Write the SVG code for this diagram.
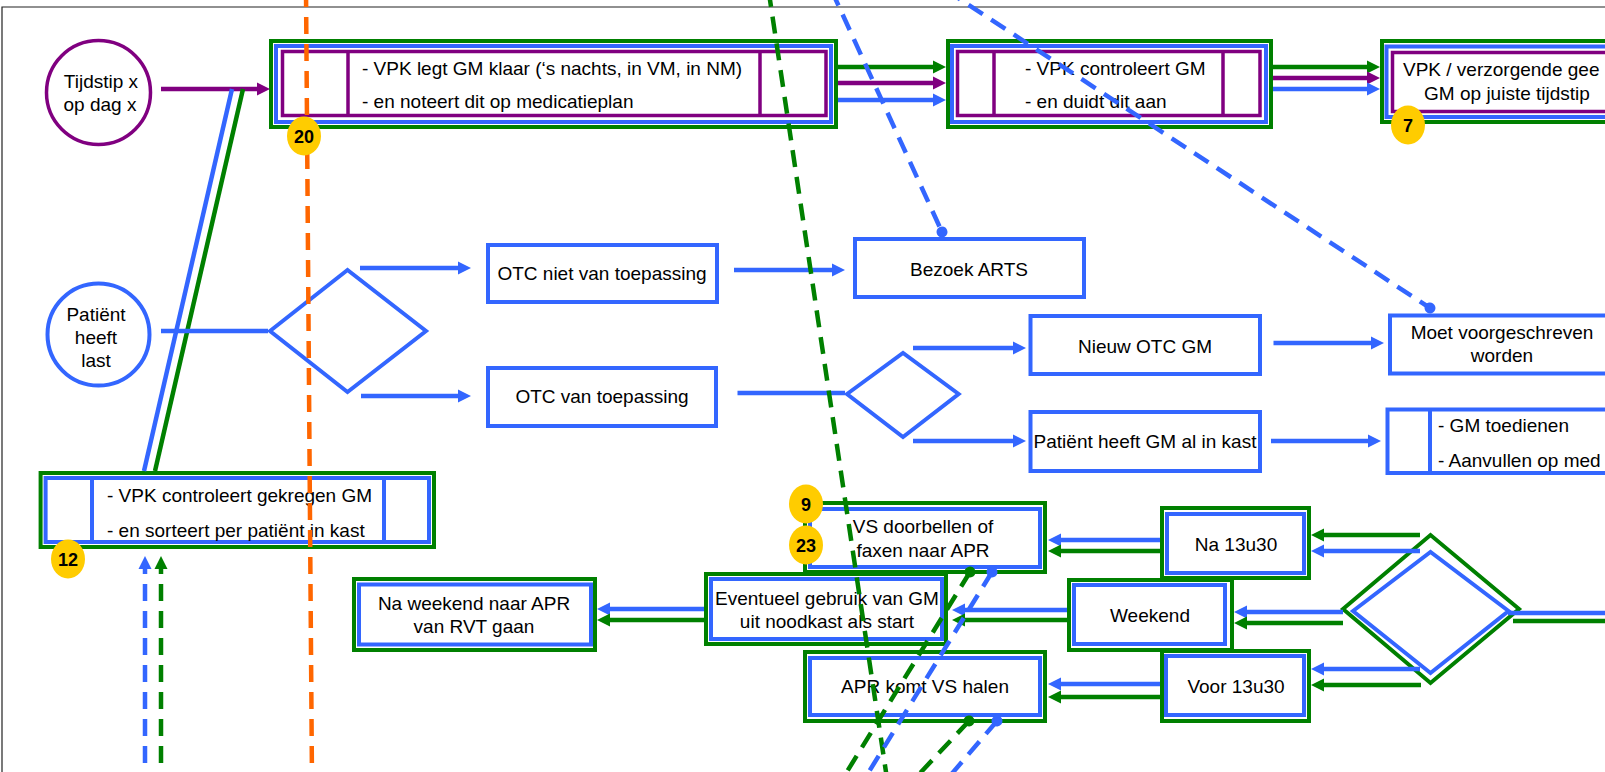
<svg xmlns="http://www.w3.org/2000/svg" width="1605" height="772" viewBox="0 0 1605 772">
<style>
.t{font-family:"Liberation Sans",Arial,Helvetica,sans-serif;font-size:19px;fill:#000}
.m{text-anchor:middle}
.bt{font-family:"Liberation Sans",Arial,sans-serif;font-size:18px;font-weight:bold;text-anchor:middle;fill:#000}
.g{fill:none;stroke:#008000;stroke-width:4}
.bl{fill:none;stroke:#3366FF;stroke-width:4}
.p{fill:none;stroke:#800080;stroke-width:3.5}
.wg{fill:#fff;stroke:#008000;stroke-width:4}
.wb{fill:#fff;stroke:#3366FF;stroke-width:4}
.wp{fill:#fff;stroke:#800080;stroke-width:3.5}
.cb{stroke:#3366FF;stroke-width:4.5;fill:none}
.cg{stroke:#008000;stroke-width:4.5;fill:none}
.cp{stroke:#800080;stroke-width:4.5;fill:none}
.ab{marker-end:url(#aB)}
.ag{marker-end:url(#aG)}
.ap{marker-end:url(#aP)}
.dash{stroke-dasharray:17 10;fill:none;stroke-width:4.5}
.badge{fill:#FFCC00}
</style>
<defs>
<marker id="aB" markerUnits="userSpaceOnUse" markerWidth="14" markerHeight="14" refX="3" refY="7" orient="auto"><path d="M0,0.5 L13,7 L0,13.5 z" fill="#3366FF"/></marker>
<marker id="aG" markerUnits="userSpaceOnUse" markerWidth="14" markerHeight="14" refX="3" refY="7" orient="auto"><path d="M0,0.5 L13,7 L0,13.5 z" fill="#008000"/></marker>
<marker id="aP" markerUnits="userSpaceOnUse" markerWidth="14" markerHeight="14" refX="3" refY="7" orient="auto"><path d="M0,0.5 L13,7 L0,13.5 z" fill="#800080"/></marker>
<marker id="dB" markerUnits="userSpaceOnUse" markerWidth="12" markerHeight="12" refX="6" refY="6" orient="auto"><circle cx="6" cy="6" r="5.5" fill="#3366FF"/></marker>
<marker id="dG" markerUnits="userSpaceOnUse" markerWidth="12" markerHeight="12" refX="6" refY="6" orient="auto"><circle cx="6" cy="6" r="5.5" fill="#008000"/></marker>
</defs>
<rect x="0" y="0" width="1605" height="772" fill="#fff"/>
<path d="M2,772 V7 H1605" fill="none" stroke="#222" stroke-width="1.2"/>

<g id="n-tijdstip">
<circle cx="98.5" cy="92.5" r="52" class="wp"/>
<text class="t m" x="101" y="88">Tijdstip x</text>
<text class="t m" x="100" y="111">op dag x</text>
</g>
<g id="n-legt">
<rect class="wg" x="271" y="41" width="565" height="86"/>
<rect class="bl" x="276" y="46" width="555" height="76"/>
<rect class="p" x="282.5" y="51.5" width="543.5" height="64"/>
<line class="p" x1="348" y1="51.5" x2="348" y2="115.5"/>
<line class="p" x1="760" y1="51.5" x2="760" y2="115.5"/>
<text class="t" x="362" y="75">- VPK legt GM klaar (‘s nachts, in VM, in NM)</text>
<text class="t" x="362" y="108">- en noteert dit op medicatieplan</text>
</g>
<g id="n-controleert">
<rect class="wg" x="948" y="41" width="323" height="86"/>
<rect class="bl" x="952" y="46" width="314" height="76"/>
<rect class="p" x="957.5" y="51.5" width="302.5" height="64"/>
<line class="p" x1="994" y1="51.5" x2="994" y2="115.5"/>
<line class="p" x1="1223" y1="51.5" x2="1223" y2="115.5"/>
<text class="t" x="1025" y="75">- VPK controleert GM</text>
<text class="t" x="1025" y="108">- en duidt dit aan</text>
</g>
<g id="n-geeft">
<rect class="wg" x="1382" y="41" width="260" height="81"/>
<rect class="bl" x="1386.5" y="46.5" width="250" height="70.5"/>
<rect class="p" x="1392.5" y="52.5" width="240" height="59"/>
<text class="t" x="1403" y="76">VPK / verzorgende gee</text>
<text class="t m" x="1507" y="100">GM op juiste tijdstip</text>
</g>
<g id="n-patient">
<circle cx="98.5" cy="334.5" r="51" class="wb"/>
<text class="t m" x="96" y="321">Patiënt</text>
<text class="t m" x="96" y="344">heeft</text>
<text class="t m" x="96" y="367">last</text>
</g>
<g id="n-dia1">
<polygon class="wb" points="270,331 347.5,270 426,331 347.5,392"/>
</g>
<g id="n-otcniet">
<rect class="wb" x="488" y="245" width="229" height="57"/>
<text class="t m" x="602" y="280">OTC niet van toepassing</text>
</g>
<g id="n-otcvan">
<rect class="wb" x="488" y="368" width="228" height="58"/>
<text class="t m" x="602" y="403">OTC van toepassing</text>
</g>
<g id="n-bezoek">
<rect class="wb" x="855" y="239" width="229" height="58"/>
<text class="t m" x="969" y="276">Bezoek ARTS</text>
</g>
<g id="n-dia2">
<polygon class="wb" points="847,394 903,353 958.6,394 903,437"/>
</g>
<g id="n-nieuw">
<rect class="wb" x="1030.5" y="316" width="229.5" height="58"/>
<text class="t m" x="1145" y="353">Nieuw OTC GM</text>
</g>
<g id="n-inkast">
<rect class="wb" x="1030.5" y="412" width="229.5" height="59"/>
<text class="t m" x="1145" y="448">Patiënt heeft GM al in kast</text>
</g>
<g id="n-moet">
<rect class="wb" x="1390" y="315.5" width="300" height="58"/>
<text class="t m" x="1502" y="339">Moet voorgeschreven</text>
<text class="t m" x="1502" y="362">worden</text>
</g>
<g id="n-toedienen">
<rect class="wb" x="1387.5" y="409.5" width="300" height="63.5"/>
<line class="bl" x1="1430" y1="409.5" x2="1430" y2="473"/>
<text class="t" x="1438" y="432">- GM toedienen</text>
<text class="t" x="1438" y="467">- Aanvullen op med</text>
</g>
<g id="n-gekregen">
<rect class="wg" x="40.6" y="473" width="393.4" height="74"/>
<rect class="bl" x="45.6" y="478" width="383.4" height="64"/>
<line class="bl" x1="92" y1="478" x2="92" y2="542"/>
<line class="bl" x1="384" y1="478" x2="384" y2="542"/>
<text class="t" x="107" y="502">- VPK controleert gekregen GM</text>
<text class="t" x="107" y="537">- en sorteert per patiënt in kast</text>
</g>
<g id="n-naweekend">
<rect class="wg" x="354" y="579" width="241" height="71"/>
<rect class="bl" x="359" y="584.5" width="232" height="60"/>
<text class="t m" x="474" y="610">Na weekend naar APR</text>
<text class="t m" x="474" y="633">van RVT gaan</text>
</g>
<g id="n-vsdoorbellen">
<rect class="wg" x="805" y="503" width="240" height="69"/>
<rect class="bl" x="810" y="509" width="230" height="58"/>
<text class="t m" x="923" y="533">VS doorbellen of</text>
<text class="t m" x="923" y="557">faxen naar APR</text>
</g>
<g id="n-eventueel">
<rect class="wg" x="706" y="574" width="240" height="70"/>
<rect class="bl" x="711" y="579" width="231" height="60"/>
<text class="t m" x="827" y="605">Eventueel gebruik van GM</text>
<text class="t m" x="827" y="628">uit noodkast als start</text>
</g>
<g id="n-aprkomt">
<rect class="wg" x="805" y="652" width="240" height="69"/>
<rect class="bl" x="810" y="658" width="230" height="57"/>
<text class="t m" x="925" y="693">APR komt VS halen</text>
</g>
<g id="n-na1330">
<rect class="wg" x="1162" y="508" width="147" height="70"/>
<rect class="bl" x="1167" y="514" width="137" height="59"/>
<text class="t m" x="1236" y="551">Na 13u30</text>
</g>
<g id="n-weekend">
<rect class="wg" x="1069" y="580" width="163" height="70"/>
<rect class="bl" x="1074" y="585" width="151" height="59"/>
<text class="t m" x="1150" y="622">Weekend</text>
</g>
<g id="n-voor1330">
<rect class="wg" x="1162" y="651" width="147" height="70"/>
<rect class="bl" x="1166" y="656" width="138" height="59"/>
<text class="t m" x="1236" y="693">Voor 13u30</text>
</g>
<g id="n-dia3">
<polygon class="wg" points="1343,609 1430.5,535 1519,609 1430.5,683"/>
<polygon class="bl" points="1353,611 1430.5,552 1508.5,611 1430.5,673"/>
</g>

<g id="connectors">
<line class="cp ap" x1="161" y1="89" x2="260" y2="89"/>
<line class="cb" x1="232" y1="89" x2="144" y2="471" stroke-width="3"/>
<line class="cg" x1="243" y1="89" x2="155" y2="471" stroke-width="3"/>
<line class="cg ag" x1="838" y1="67" x2="936" y2="67"/>
<line class="cp ap" x1="838" y1="83" x2="936" y2="83"/>
<line class="cb ab" x1="838" y1="100" x2="936" y2="100"/>
<line class="cg ag" x1="1273" y1="67" x2="1370" y2="67"/>
<line class="cp ap" x1="1273" y1="78" x2="1370" y2="78"/>
<line class="cb ab" x1="1273" y1="89" x2="1370" y2="89"/>
<line class="cb" x1="161" y1="331" x2="268" y2="331" stroke-width="3.5"/>
<line class="cb ab" x1="360" y1="268" x2="461" y2="268"/>
<line class="cb ab" x1="361" y1="396" x2="461" y2="396"/>
<line class="cb ab" x1="734" y1="270" x2="835" y2="270"/>
<line class="cb" x1="737.5" y1="393" x2="845" y2="393" stroke-width="3.5"/>
<line class="cb ab" x1="913" y1="348" x2="1016" y2="348"/>
<line class="cb ab" x1="913" y1="441" x2="1016" y2="441"/>
<line class="cb ab" x1="1273.5" y1="343" x2="1374" y2="343"/>
<line class="cb ab" x1="1271" y1="441" x2="1371" y2="441"/>
<line class="cg ag" x1="1420" y1="535" x2="1321" y2="535"/>
<line class="cb ab" x1="1420" y1="551" x2="1321" y2="551"/>
<line class="cb ab" x1="1343" y1="612" x2="1244" y2="612"/>
<line class="cg ag" x1="1343" y1="623" x2="1244" y2="623"/>
<line class="cb ab" x1="1420" y1="669" x2="1321" y2="669"/>
<line class="cg ag" x1="1421" y1="685" x2="1321" y2="685"/>
<line class="cb" x1="1508" y1="613" x2="1610" y2="613"/>
<line class="cg" x1="1513" y1="621" x2="1610" y2="621"/>
<line class="cb ab" x1="1160" y1="540" x2="1058" y2="540"/>
<line class="cg ag" x1="1160" y1="551" x2="1058" y2="551"/>
<line class="cb ab" x1="1067" y1="610" x2="962" y2="610"/>
<line class="cg ag" x1="1067" y1="620" x2="962" y2="620"/>
<line class="cb ab" x1="1160" y1="684" x2="1058" y2="684"/>
<line class="cg ag" x1="1160" y1="697" x2="1058" y2="697"/>
<line class="cb ab" x1="704" y1="609" x2="607" y2="609"/>
<line class="cg ag" x1="704" y1="620" x2="607" y2="620"/>
<line class="dash ab" stroke="#3366FF" x1="145" y1="790" x2="145" y2="566"/>
<line class="dash ag" stroke="#008000" x1="161" y1="790" x2="161" y2="566"/>
<line class="dash" stroke="#FF6600" x1="306" y1="-10" x2="312" y2="782"/>
<line class="dash" stroke="#008000" x1="768.5" y1="-10" x2="887.5" y2="782"/>
<line class="dash" stroke="#3366FF" marker-end="url(#dB)" x1="831.4" y1="-10" x2="942" y2="232"/>
<line class="dash" stroke="#3366FF" marker-end="url(#dB)" x1="946" y1="-10" x2="1430" y2="308"/>
<line class="dash" stroke="#008000" marker-start="url(#dG)" x1="970" y1="572" x2="840.6" y2="782"/>
<line class="dash" stroke="#3366FF" marker-start="url(#dB)" x1="992" y1="572" x2="862.6" y2="782"/>
<line class="dash" stroke="#008000" marker-start="url(#dG)" x1="969" y1="721" x2="911.7" y2="782"/>
<line class="dash" stroke="#3366FF" marker-start="url(#dB)" x1="997" y1="721" x2="944.7" y2="782"/>
</g>

<g id="badges">
<ellipse class="badge" cx="304" cy="136" rx="17" ry="19.5"/>
<text class="bt" x="304" y="142.5">20</text>
<ellipse class="badge" cx="1408" cy="125" rx="17" ry="19.5"/>
<text class="bt" x="1408" y="131.5">7</text>
<ellipse class="badge" cx="68" cy="559" rx="17" ry="19.5"/>
<text class="bt" x="68" y="565.5">12</text>
<ellipse class="badge" cx="806" cy="504" rx="17" ry="19.5"/>
<text class="bt" x="806" y="510.5">9</text>
<ellipse class="badge" cx="806" cy="545" rx="17" ry="19.5"/>
<text class="bt" x="806" y="551.5">23</text>
</g>
</svg>
